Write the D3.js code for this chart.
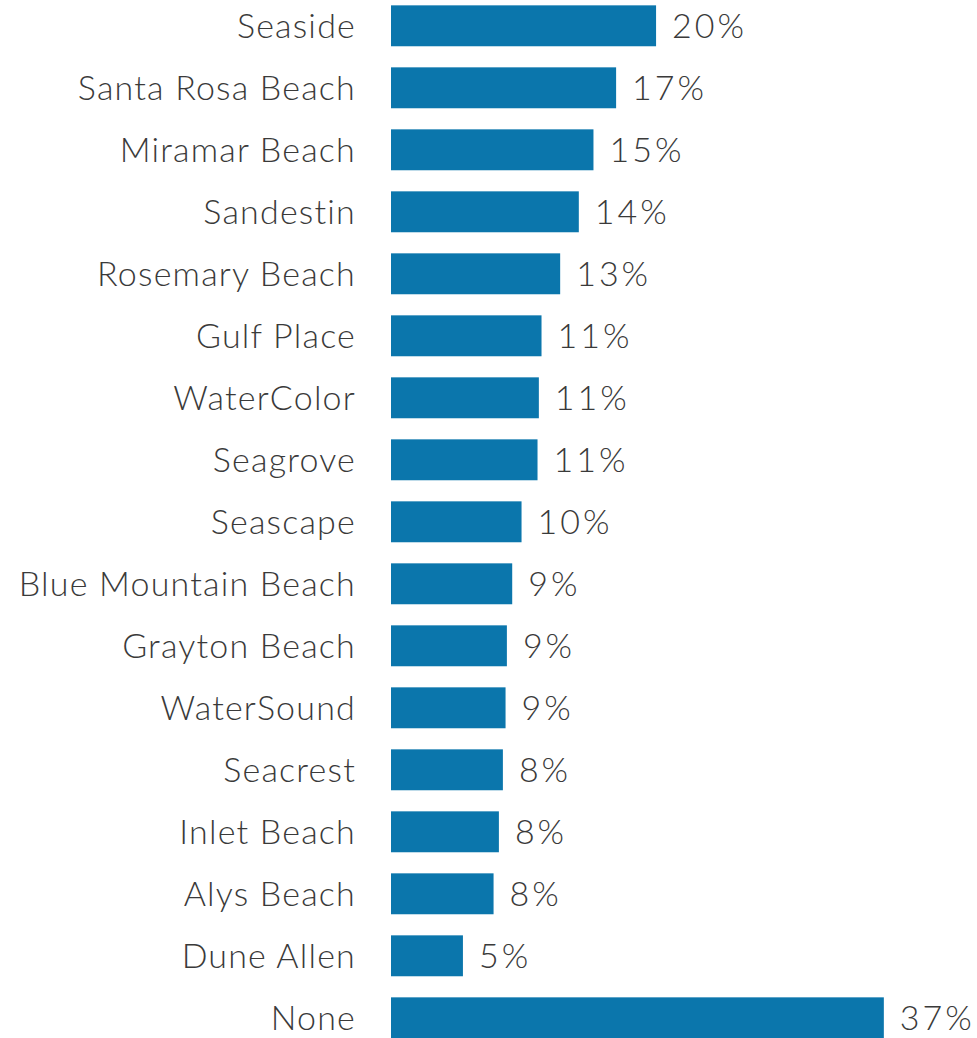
<!DOCTYPE html>
<html>
<head>
<meta charset="utf-8">
<script src="https://cdn.jsdelivr.net/npm/d3@7"></script>
<style>
  body { margin: 0; background: #fff; }
  svg { display: block; }
  text { font-family: Lato, "Open Sans", sans-serif; font-weight: 300; fill: #3a3a3a; }
</style>
</head>
<body>
<div id="chart"></div>
<script>
// Places (top to bottom)
const places = [
  "Seaside", "Santa Rosa Beach", "Miramar Beach", "Sandestin", "Rosemary Beach",
  "Gulf Place", "WaterColor", "Seagrove", "Seascape", "Blue Mountain Beach",
  "Grayton Beach", "WaterSound", "Seacrest", "Inlet Beach", "Alys Beach",
  "Dune Allen", "None"
];
// Share of respondents (%)
const shares = [
  19.9, 16.9, 15.2, 14.1, 12.7,
  11.3, 11.1, 11.0, 9.8, 9.1,
  8.7, 8.6, 8.4, 8.1, 7.7,
  5.4, 37.0
];

const data = places.map((p, i) => ({ place: p, value: shares[i] }));

const width = 977;
const height = 1038;

const svg = d3
  .select("#chart")
  .append("svg")
  .attr("width", width)
  .attr("height", height);

// Scales
const xScale = d3.scaleLinear().domain([0, 40]).range([391, 923.8]);

const yScale = d3
  .scaleBand()
  .domain(places)
  .range([-5.2, -5.2 + 17 * 62])
  .paddingInner(0.34)
  .paddingOuter(0.17);

// Bars
svg
  .selectAll(".bar")
  .data(data)
  .enter()
  .append("rect")
  .attr("class", "bar")
  .attr("x", xScale(0))
  .attr("y", (d) => yScale(d.place))
  .attr("width", (d) => xScale(d.value) - xScale(0))
  .attr("height", yScale.bandwidth())
  .attr("fill", "#0b76ac");

// Category labels
svg
  .selectAll(".cat")
  .data(data)
  .enter()
  .append("text")
  .attr("class", "cat")
  .attr("x", xScale(0) - 35)
  .attr("y", (d) => yScale(d.place) + yScale.bandwidth() / 2)
  .attr("dy", "0.37em")
  .attr("text-anchor", "end")
  .style("font-size", "34px")
  .style("letter-spacing", "1.2px")
  .text((d) => d.place);

// Value labels
svg
  .selectAll(".val")
  .data(data)
  .enter()
  .append("text")
  .attr("class", "val")
  .attr("x", (d) => xScale(d.value) + 16)
  .attr("y", (d) => yScale(d.place) + yScale.bandwidth() / 2)
  .attr("dy", "0.37em")
  .style("font-size", "34px")
  .style("letter-spacing", "3px")
  .text((d) => Math.round(d.value) + "%");
</script>
</body>
</html>
